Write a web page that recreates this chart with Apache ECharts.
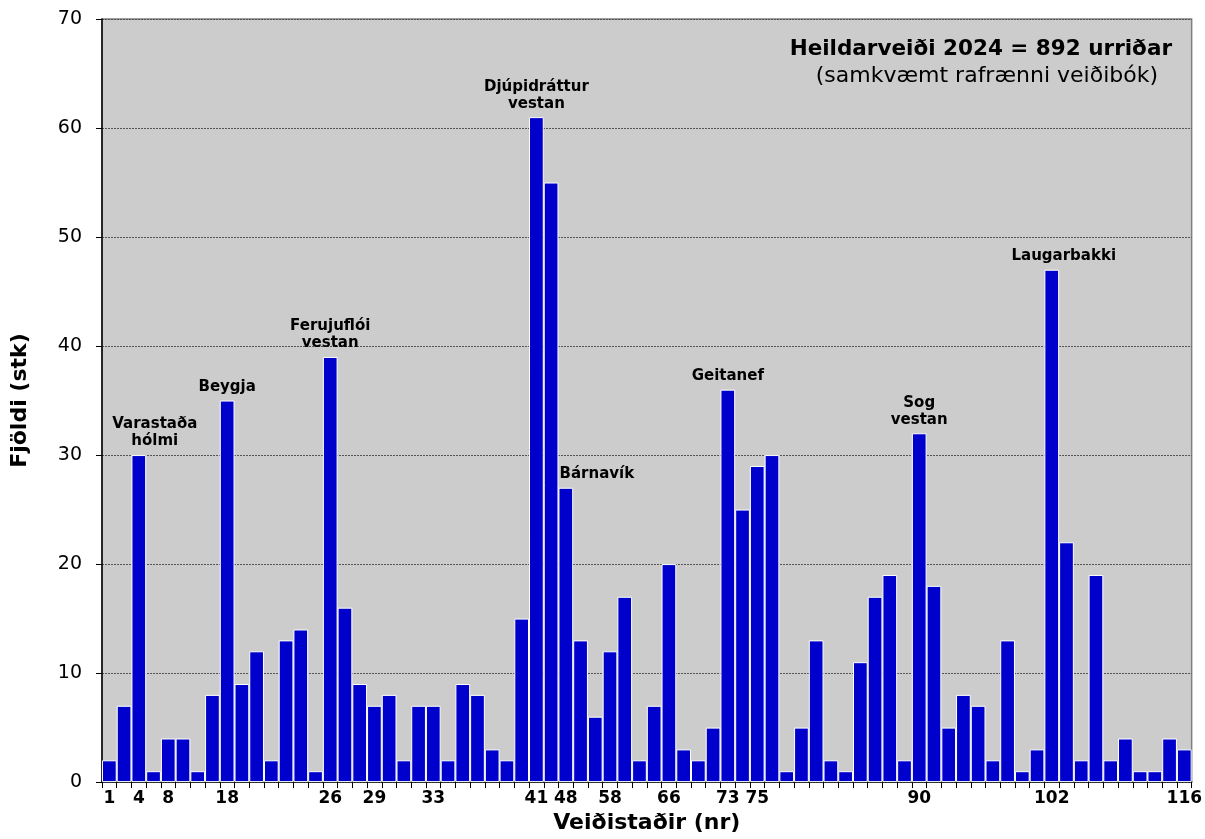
<!DOCTYPE html>
<html><head><meta charset="utf-8">
<script src="https://cdn.jsdelivr.net/npm/echarts@6/dist/echarts.min.js"></script>
<style>html,body{margin:0;padding:0;background:#fff}#c{width:1205px;height:839px}</style>
</head><body><div id="c"></div>
<script>
const values = [2,7,30,1,4,4,1,8,35,9,12,2,13,14,1,39,16,9,7,8,2,7,7,2,9,8,3,2,15,61,55,27,13,6,12,17,2,7,20,3,2,5,36,25,29,30,1,5,13,2,1,11,17,19,2,32,18,5,8,7,2,13,1,3,47,22,2,19,2,4,1,1,4,3];
const tickLabels = ['1','','4','','8','','','','18','','','','','','','26','','','29','','','','33','','','','','','','41','','48','','','58','','','','66','','','','73','','75','','','','','','','','','','','90','','','','','','','','','102','','','','','','','','','116'];
const annotations = {3:'Varastaða\nhólmi',9:'Beygja',16:'Ferujuflói\nvestan',30:'Djúpidráttur\nvestan',32:'Bárnavík',43:'Geitanef',56:'Sog\nvestan',65:'Laugarbakki'};
const annotationShift = {3:16, 32:31, 65:12};
const yTicks = [0,10,20,30,40,50,60,70];
const titleMain = 'Heildarveiði 2024 = 892 urriðar';
const titleSub = '(samkvæmt rafrænni veiðibók)';
const categories = values.map((v,i)=>String(i+1));

const FONT = 'DejaVu Sans';
const data = values.map((v,i)=>{
  const a = annotations[i+1];
  if (!a) return v;
  const lbl = {show:true, position:'top', distance:5, formatter:a, fontFamily:FONT, fontWeight:'bold', fontSize:15, lineHeight:17, color:'#000'};
  if (annotationShift[i+1]) lbl.offset = [annotationShift[i+1], 0];
  return {value:v, label:lbl};
});

const chart = echarts.init(document.getElementById('c'), null, {renderer:'canvas'});
chart.setOption({
  animation:false,
  backgroundColor:'#fff',
  grid:{left:102, top:19, right:8, bottom:54, show:true, backgroundColor:'#CCCCCC', borderColor:'#808080', borderWidth:1.5, containLabel:false},
  xAxis:{
    type:'category', data:categories, boundaryGap:true,
    axisLine:{show:true, lineStyle:{color:'#000', width:1.5}},
    axisTick:{show:true, interval:0, length:6, lineStyle:{color:'#000'}},
    axisLabel:{interval:0, formatter:(v,i)=>tickLabels[i], fontFamily:FONT, fontWeight:'bold', fontSize:17, color:'#000', margin:8},
    name:'Veiðistaðir (nr)', nameLocation:'middle', nameGap:29,
    nameTextStyle:{fontFamily:FONT, fontWeight:'bold', fontSize:22, color:'#000'}
  },
  yAxis:{
    type:'value', min:yTicks[0], max:yTicks[yTicks.length-1], interval:10,
    axisLine:{show:true, lineStyle:{color:'#000', width:1.5}},
    axisTick:{show:true, length:6, lineStyle:{color:'#000'}},
    axisLabel:{fontFamily:FONT, fontSize:19, color:'#000', margin:20},
    splitLine:{show:true, lineStyle:{color:'#555', type:[2,1], width:1}},
    name:'Fjöldi (stk)', nameLocation:'middle', nameGap:71, nameRotate:90,
    nameTextStyle:{fontFamily:FONT, fontWeight:'bold', fontSize:22, color:'#000'}
  },
  series:[{
    type:'bar', data:data, barWidth:'100%',
    itemStyle:{color:'#0000CC', borderColor:'#ffffff', borderWidth:1}
  }],
  graphic:[
    {type:'text', right:33, top:38, style:{text:titleMain, font:'bold 21.5px "DejaVu Sans"', fill:'#000', textAlign:'right'}},
    {type:'text', right:47, top:65, style:{text:titleSub, font:'22px "DejaVu Sans"', fill:'#000', textAlign:'right'}}
  ]
});
</script></body></html>
